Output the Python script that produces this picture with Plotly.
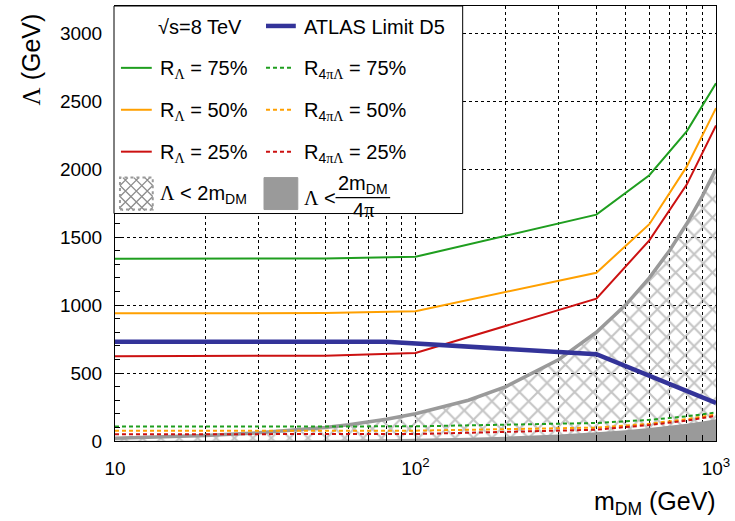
import plotly.graph_objects as go

# ---------------- data ----------------
m_curve = [10, 50, 100, 400, 600, 800, 1000]
r75 = [1340, 1343, 1355, 1665, 1955, 2280, 2632]
r50 = [940, 941, 955, 1238, 1595, 2020, 2449]
r25 = [623, 628, 647, 1047, 1476, 1888, 2321]
r75_4pi = [106.6, 106.9, 107.8, 132.5, 155.6, 181.4, 209.5]
r50_4pi = [74.8, 74.9, 76.0, 98.5, 126.9, 160.8, 194.9]
r25_4pi = [49.6, 50.0, 51.5, 83.3, 117.5, 150.2, 184.7]

m_atlas = [10, 80, 400, 1000]
atlas_d5 = [730, 730, 638, 280]

m_bound = [10, 15, 20, 30, 40, 50, 60, 80, 100, 150, 200, 300, 400, 500, 600, 700, 800, 900, 1000]
bound_2m = [20, 30, 40, 60, 80, 100, 120, 160, 200, 300, 400, 600, 800, 1000, 1200, 1400, 1600, 1800, 2000]
bound_2m_4pi = [1.6, 2.4, 3.2, 4.8, 6.4, 8.0, 9.5, 12.7, 15.9, 23.9, 31.8, 47.7, 63.7, 79.6, 95.5, 111.4, 127.3, 143.2, 159.2]

x_tickvals = [10, 100, 1000]
x_ticktext = ["10", "10<sup>2</sup>", "10<sup>3</sup>"]
x_minor = [20, 30, 40, 50, 60, 70, 80, 90, 200, 300, 400, 500, 600, 700, 800, 900]
y_tickvals = [0, 500, 1000, 1500, 2000, 2500, 3000]

GREEN = "#1f9e1f"
ORANGE = "#ffa000"
RED = "#cc1111"
BLUE = "#333399"
GREY = "#9a9a9a"
HATCH = "#8c8c8c"
FONT = "Liberation Sans"
LAM = "<span style='font-family:Liberation Serif'>Λ</span>"

W, H = 735, 521
L, R, T, B = 115, 15, 5, 80
PW, PH = W - L - R, H - T - B


def px(x):
    return (x - L) / PW


def py(y):
    return (H - B - y) / PH


fig = go.Figure()

# hatched region  Lambda < 2 m_DM
fig.add_trace(go.Scatter(
    x=m_bound + m_bound[::-1], y=bound_2m + [0] * len(m_bound),
    fill="toself", fillcolor="rgba(0,0,0,0)", mode="none",
    fillpattern=dict(shape="x", fgcolor=HATCH, bgcolor="rgba(0,0,0,0)", size=13, solidity=0.3),
    hoverinfo="skip", showlegend=False))
fig.add_trace(go.Scatter(x=m_bound, y=bound_2m, mode="lines",
                         line=dict(color=GREY, width=3.5), showlegend=False))
# solid region Lambda < 2 m_DM / 4pi
fig.add_trace(go.Scatter(
    x=m_bound + m_bound[::-1], y=bound_2m_4pi + [0] * len(m_bound),
    fill="toself", fillcolor=GREY, mode="none", showlegend=False))

for yv, c in [(r75_4pi, GREEN), (r50_4pi, ORANGE), (r25_4pi, RED)]:
    fig.add_trace(go.Scatter(x=m_curve, y=yv, mode="lines",
                             line=dict(color=c, width=2, dash="4px,3px"), showlegend=False))
for yv, c in [(r75, GREEN), (r50, ORANGE), (r25, RED)]:
    fig.add_trace(go.Scatter(x=m_curve, y=yv, mode="lines",
                             line=dict(color=c, width=2), showlegend=False))
fig.add_trace(go.Scatter(x=m_atlas, y=atlas_d5, mode="lines",
                         line=dict(color=BLUE, width=4.5), showlegend=False))

shapes = []
annotations = []

# legend box
shapes.append(dict(type="rect", xref="paper", yref="paper",
                   x0=px(114), x1=px(465), y0=py(213), y1=py(5),
                   line=dict(color="black", width=1), fillcolor="white", layer="above"))


def seg(x0, x1, y, color, width, dash="solid"):
    shapes.append(dict(type="line", xref="paper", yref="paper",
                       x0=px(x0), x1=px(x1), y0=py(y), y1=py(y),
                       line=dict(color=color, width=width, dash=dash), layer="above"))


def text(x, y, s, size=20, xanchor="left", family=FONT):
    annotations.append(dict(x=px(x), y=py(y), xref="paper", yref="paper",
                            text=s, showarrow=False, xanchor=xanchor, yanchor="middle",
                            font=dict(family=family, size=size, color="black")))


# row 1
text(156, 26, "√s=8 TeV")
seg(267, 297, 25, BLUE, 4.5)
text(303, 26, "ATLAS Limit D5")
# rows 2-4
rows = [(67, GREEN, "75%"), (109, ORANGE, "50%"), (151, RED, "25%")]
for y, c, pct in rows:
    seg(121, 152, y, c, 2)
    text(158, y + 2, "R<sub>" + LAM + "</sub> = " + pct)
    seg(267, 295, y, c, 2, "4px,3px")
    text(303, y + 2, "R<sub>4<span style='font-family:Liberation Serif'>π</span>" + LAM + "</sub> = " + pct)

# row 5: hatched box
hx0, hx1, hy0, hy1 = 120, 153, 177, 209
path = ""
s = hx1 - hx0
d = 11
c = -s + 3
while c < s:
    a0 = (max(0, c), max(0, -c))
    a1 = (min(s, s + c), min(s, s - c))
    path += "M%.4f,%.4f L%.4f,%.4f " % (px(hx0 + a0[0]), py(hy0 + a0[1]), px(hx0 + a1[0]), py(hy0 + a1[1]))
    path += "M%.4f,%.4f L%.4f,%.4f " % (px(hx1 - a0[0]), py(hy0 + a0[1]), px(hx1 - a1[0]), py(hy0 + a1[1]))
    c += d
shapes.append(dict(type="path", xref="paper", yref="paper", path=path,
                   line=dict(color=HATCH, width=1.3), layer="above"))
shapes.append(dict(type="rect", xref="paper", yref="paper",
                   x0=px(hx0), x1=px(hx1), y0=py(hy1), y1=py(hy0),
                   line=dict(color=GREY, width=2, dash="dot"), layer="above"))
text(158, 194, LAM + " &lt; 2m<sub>DM</sub>")

shapes.append(dict(type="rect", xref="paper", yref="paper",
                   x0=px(265), x1=px(299), y0=py(209), y1=py(177),
                   line=dict(color=GREY, width=1), fillcolor=GREY, layer="above"))
text(303, 197, LAM + " &lt;")
text(365, 184, "2m<sub>DM</sub>", xanchor="center")
seg(337, 392, 197, "black", 1.2)
text(365, 209, "4<span style='font-family:Liberation Serif'>π</span>", xanchor="center")

# axis titles
annotations.append(dict(x=px(30), y=py(59), xref="paper", yref="paper",
                        text=LAM + " (GeV)", textangle=-90, showarrow=False,
                        xanchor="center", yanchor="middle",
                        font=dict(family=FONT, size=25, color="black")))
annotations.append(dict(x=px(722), y=py(503), xref="paper", yref="paper",
                        text="m<sub>DM</sub> (GeV)", showarrow=False,
                        xanchor="right", yanchor="middle",
                        font=dict(family=FONT, size=25, color="black")))

fig.update_layout(
    width=W, height=H,
    margin=dict(l=L, r=R, t=T, b=B),
    paper_bgcolor="white", plot_bgcolor="white",
    shapes=shapes, annotations=annotations,
    showlegend=False,
    xaxis=dict(type="log", range=[1, 3], tickmode="array", tickvals=x_tickvals,
               ticktext=x_ticktext, ticks="inside", ticklen=12, tickwidth=1,
               tickcolor="black", showline=True, linecolor="black", linewidth=1,
               mirror=True, showgrid=True, gridcolor="black", gridwidth=1,
               griddash="dot", zeroline=False, ticklabelstandoff=10,
               tickfont=dict(family=FONT, size=19, color="black"),
               minor=dict(tickmode="array", tickvals=x_minor, ticks="inside",
                          ticklen=6, tickcolor="black", showgrid=True,
                          gridcolor="black", gridwidth=1, griddash="dot")),
    yaxis=dict(range=[0, 3200], tickmode="array", tickvals=y_tickvals,
               ticks="inside", ticklen=9, tickwidth=1, tickcolor="black",
               showline=True, linecolor="black", linewidth=1, mirror=True,
               showgrid=True, gridcolor="black", gridwidth=1, griddash="dot",
               zeroline=False, ticklabelstandoff=8,
               tickfont=dict(family=FONT, size=19, color="black"),
               minor=dict(dtick=100, ticks="inside", ticklen=5,
                          tickcolor="black", showgrid=False)),
)

fig.write_html("out.html", config={"displayModeBar": False},
               post_script="document.body.style.margin='0';")
